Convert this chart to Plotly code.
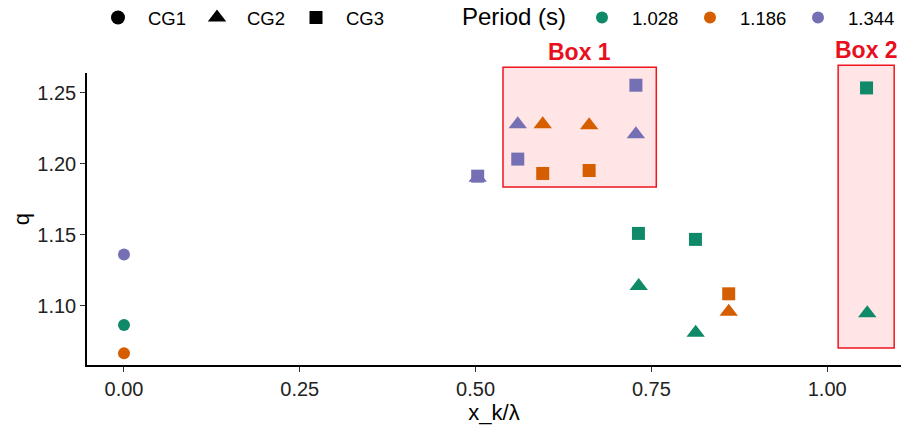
import plotly.graph_objects as go

# ---------------- data ----------------
periods = [1.028, 1.186, 1.344]
period_labels = ["1.028", "1.186", "1.344"]
period_colors = ["#0F8A69", "#D55E00", "#7570B3"]

# CG1 (circles)
cg1_x = [0.0, 0.0, 0.0]
cg1_q = [1.0864, 1.0665, 1.1361]
cg1_period = [1.028, 1.186, 1.344]

# CG2 (triangles)
cg2_x = [0.503, 0.560, 0.5955, 0.6615, 0.728, 0.732, 0.813, 0.860, 1.057]
cg2_q = [1.1900, 1.2278, 1.2278, 1.2270, 1.2207, 1.1139, 1.0810, 1.0958, 1.0947]
cg2_period = [1.344, 1.344, 1.186, 1.186, 1.344, 1.028, 1.028, 1.186, 1.028]

# CG3 (squares)
cg3_x = [0.503, 0.560, 0.5955, 0.6615, 0.728, 0.7316, 0.8127, 0.860, 1.056]
cg3_q = [1.1912, 1.2032, 1.1931, 1.1952, 1.2552, 1.1509, 1.1467, 1.1084, 1.2533]
cg3_period = [1.344, 1.344, 1.186, 1.186, 1.344, 1.028, 1.028, 1.186, 1.028]

groups = ["CG1", "CG2", "CG3"]
group_symbols = ["circle", "triangle-up", "square"]
group_sizes = [12, 16, 13]
group_data = [(cg1_x, cg1_q, cg1_period), (cg2_x, cg2_q, cg2_period), (cg3_x, cg3_q, cg3_period)]

# highlight boxes (data units)
box_labels = ["Box 1", "Box 2"]
box_x0 = [0.539, 1.0156]
box_x1 = [0.757, 1.0953]
box_y0 = [1.1835, 1.0703]
box_y1 = [1.2679, 1.2693]

x_range = [-0.0526, 1.105]
y_range = [1.0583, 1.2638]

FONT = "Liberation Sans, Arial, sans-serif"
W, H = 901, 430
ML, MR, MT, MB = 87, 0, 73, 65

fig = go.Figure()

def ypaper(v):
    return (v - y_range[0]) / (y_range[1] - y_range[0])

# boxes drawn below the points
for lab, a, b, c, d in zip(box_labels, box_x0, box_x1, box_y0, box_y1):
    fig.add_shape(type="rect", xref="x", yref="paper", x0=a, x1=b, y0=ypaper(c), y1=ypaper(d),
                  fillcolor="rgba(255,0,0,0.1)", line=dict(color="#F0141E", width=1.5), layer="below")
    fig.add_annotation(x=(a + b) / 2, y=ypaper(d), xref="x", yref="paper", text="<b>%s</b>" % lab,
                       showarrow=False, yanchor="bottom", yshift=0,
                       font=dict(family=FONT, size=23, color="#E8101E"))

# data traces
for g, sym, sz, (xs, qs, ps) in zip(groups, group_symbols, group_sizes, group_data):
    for p, col in zip(periods, period_colors):
        xx = [x for x, pp in zip(xs, ps) if pp == p]
        yy = [q for q, pp in zip(qs, ps) if pp == p]
        if not xx:
            continue
        fig.add_trace(go.Scatter(x=xx, y=yy, mode="markers", showlegend=False,
                                 marker=dict(symbol=sym, size=sz, color=col, line=dict(width=0))))

# legend entries (shape)
leg_sizes = [14, 16, 13]
for g, sym, sz in zip(groups, group_symbols, leg_sizes):
    fig.add_trace(go.Scatter(x=[None], y=[None], mode="markers", name=g, legend="legend",
                             marker=dict(symbol=sym, size=sz, color="black")))
# legend entries (period)
for lab, col in zip(period_labels, period_colors):
    fig.add_trace(go.Scatter(x=[None], y=[None], mode="markers", name=lab, legend="legend2",
                             marker=dict(symbol="circle", size=12, color=col)))

# legend title for the period legend
fig.add_annotation(xref="paper", yref="paper", x=(460 - ML) / (W - ML - MR),
                   y=(H - MB - 17) / (H - MT - MB), xanchor="left", yanchor="middle",
                   text="Period (s)", showarrow=False,
                   font=dict(size=24, color="black", family=FONT))

fig.update_layout(
    width=W, height=H,
    margin=dict(l=ML, r=MR, t=MT, b=MB),
    paper_bgcolor="white", plot_bgcolor="white",
    font=dict(family=FONT, color="#1a1a1a"),
    xaxis=dict(range=x_range, tickvals=[0, 0.25, 0.5, 0.75, 1.0],
               ticktext=["0.00", "0.25", "0.50", "0.75", "1.00"], automargin=False,
               showline=True, linecolor="black", linewidth=1.5, showgrid=False, zeroline=False,
               ticks="outside", ticklen=5, tickcolor="#333333", tickwidth=1,
               tickfont=dict(size=20, color="#222222"),
               title=dict(text="x_k/λ", font=dict(size=22, color="black"), standoff=4)),
    yaxis=dict(range=y_range, tickvals=[1.10, 1.15, 1.20, 1.25],
               ticktext=["1.10", "1.15", "1.20", "1.25"], automargin=False,
               showline=True, linecolor="black", linewidth=1.5, showgrid=False, zeroline=False,
               ticks="outside", ticklen=5, tickcolor="#333333", tickwidth=1,
               tickfont=dict(size=20, color="#222222"),
               title=dict(text="q", font=dict(size=22, color="black"), standoff=2)),
    legend=dict(orientation="h", xref="container", yref="container", x=88/901, y=1 - 18/430,
                xanchor="left", yanchor="middle", itemwidth=50, entrywidth=34,
                font=dict(size=18.5, color="black", family=FONT), bgcolor="rgba(0,0,0,0)"),
    legend2=dict(orientation="h", xref="container", yref="container", x=572/901, y=1 - 18/430,
                 xanchor="left", yanchor="middle", itemwidth=50, entrywidth=43,
                 font=dict(size=18.5, color="black", family=FONT), bgcolor="rgba(0,0,0,0)"),
)

fig.write_html("out.html", config={"displayModeBar": False},
               post_script="document.body.style.margin='0px';document.body.style.overflow='hidden';")
